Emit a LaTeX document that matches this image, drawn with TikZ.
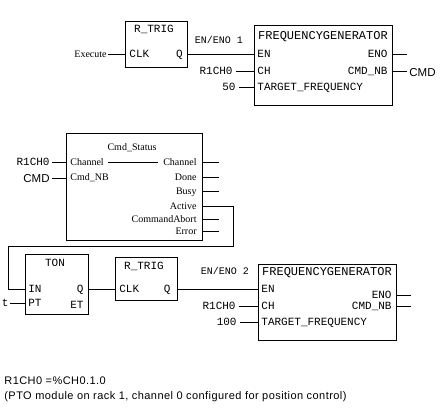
\documentclass[tikz,border=0pt]{standalone}
\usepackage{fontspec}
\setmainfont{Liberation Serif}
\newfontfamily\monof{Liberation Mono}
\newfontfamily\sansf{Liberation Sans}
\newfontfamily\notef[LetterSpace=4]{Liberation Sans}
\begin{document}
\begin{tikzpicture}[x=1pt,y=-1pt,line width=0.8pt,
  blk/.style={draw,anchor=north west,inner sep=0pt},
  mono/.style={font=\monof\fontsize{11}{12}\selectfont,inner sep=1pt,text height=6.2pt,text depth=0pt},
  monot/.style={font=\monof\fontsize{12}{13}\selectfont,inner sep=1pt,text height=6.8pt,text depth=0pt},
  monos/.style={font=\monof\fontsize{10}{11}\selectfont,inner sep=1pt,text height=5.7pt,text depth=0pt},
  ser/.style={font=\fontsize{10}{11}\selectfont,inner sep=1pt,text height=6.6pt,text depth=0pt},
  san/.style={font=\sansf\fontsize{11.5}{13}\selectfont,inner sep=1pt,text height=8.2pt,text depth=0pt},
  note/.style={font=\notef\fontsize{11}{12}\selectfont,inner sep=0pt,anchor=base west}]
\useasboundingbox (0,0) rectangle (440,412);

% ---------- R_TRIG 1 ----------
\node[blk,minimum width=62pt,minimum height=46pt] (rt1) at (125,21) {};
\node[mono] (rt1t) at (154,29) {R\_TRIG};
\node[mono,anchor=west] (rt1clk) at (128,54) {CLK};
\node[mono,anchor=east] (rt1q) at (184,54) {Q};
\node[ser,anchor=east] (exe) at (108,54) {Execute};
\draw (exe.east) -- (exe.east -| rt1.west);

% ---------- FREQUENCYGENERATOR 1 ----------
\node[blk,minimum width=138pt,minimum height=80pt] (fg1) at (254,25) {};
\node[monot] (fg1t) at (323,36) {FREQUENCYGENERATOR};
\node[mono,anchor=west] (fg1en) at (256,54) {EN};
\node[mono,anchor=west] (fg1ch) at (256,71) {CH};
\node[mono,anchor=west] (fg1tf) at (256,87) {TARGET\_FREQUENCY};
\node[mono,anchor=east] (fg1eno) at (389,54) {ENO};
\node[mono,anchor=east] (fg1nb) at (389,71) {CMD\_NB};
\node[monos] (eno1) at (219,41) {EN/ENO 1};
\draw (rt1q.east -| rt1.east) -- (fg1en.west -| fg1.west);
\node[mono,anchor=east] (fg1chin) at (234,71) {R1CH0};
\draw (fg1chin.east) ++(2,0) -- (fg1ch.west -| fg1.west);
\node[mono,anchor=east] (fg1tfin) at (237,87) {50};
\draw (fg1tfin.east) ++(2,0) -- (fg1tf.west -| fg1.west);
\draw (fg1eno.east -| fg1.east) -- ++(14,0) coordinate (fg1enoo);
\draw (fg1nb.east -| fg1.east) -- ++(14,0) coordinate (fg1nbo);
\node[san,anchor=west] (cmd1) at (408,72) {CMD};

% ---------- Cmd_Status ----------
\node[blk,minimum width=136pt,minimum height=107pt] (cs) at (66,133) {};
\node[ser] (cst) at (132,147) {Cmd\_Status};
\node[ser,anchor=west] (csch) at (69,162) {Channel};
\node[ser,anchor=west] (csnb) at (69,177) {Cmd\_NB};
\node[ser,anchor=east] (csch1) at (198,162) {Channel};
\node[ser,anchor=east] (csdone) at (198,177) {Done};
\node[ser,anchor=east] (csbusy) at (198,191) {Busy};
\node[ser,anchor=east] (csact) at (198,206) {Active};
\node[ser,anchor=east] (csab) at (198,219) {CommandAbort};
\node[ser,anchor=east] (cserr) at (198,231) {Error};
\draw (csch.east) ++(3,0) -- ([xshift=-4pt]csch1.west);
\node[mono,anchor=east] (cschin) at (51,162) {R1CH0};
\draw (cschin.east) ++(1,0) -- (csch.west -| cs.west);
\node[san,anchor=east] (cmd2) at (51,178) {CMD};
\draw (cmd2.east) ++(1,0) -- (cmd2.east -| cs.west);
\foreach \n in {csch1,csdone,csbusy,csab,cserr}
  \draw (\n.east -| cs.east) -- ++(16,0);

% ---------- TON ----------
\node[blk,minimum width=63pt,minimum height=60pt] (ton) at (25,254) {};
\node[mono] (tont) at (55,263) {TON};
\node[mono,anchor=west] (tonin) at (27,289) {IN};
\node[mono,anchor=west] (tonpt) at (27,303) {PT};
\node[mono,anchor=east] (tonq) at (85,289) {Q};
\node[mono,anchor=east] (tonet) at (85,305) {ET};
\node[mono,anchor=east] (tin) at (10,303) {t};
\draw (tin.east) -- (tonpt.west -| ton.west);
\coordinate (c1) at (233,246);
\coordinate (c2) at (8,246);
\draw (csact.east -| cs.east) -| (c1) -- (c2) |- (tonin.west -| ton.west);

% ---------- R_TRIG 2 ----------
\node[blk,minimum width=62pt,minimum height=43pt] (rt2) at (115,257) {};
\node[mono] (rt2t) at (144,266) {R\_TRIG};
\node[mono,anchor=west] (rt2clk) at (118,289) {CLK};
\node[mono,anchor=east] (rt2q) at (172,289) {Q};
\draw (tonq.east -| ton.east) -- (rt2clk.west -| rt2.west);

% ---------- FREQUENCYGENERATOR 2 ----------
\node[blk,minimum width=138pt,minimum height=76pt] (fg2) at (258,264) {};
\node[monot] (fg2t) at (327,272) {FREQUENCYGENERATOR};
\node[mono,anchor=west] (fg2en) at (260,289) {EN};
\node[mono,anchor=west] (fg2ch) at (260,306) {CH};
\node[mono,anchor=west] (fg2tf) at (260,322) {TARGET\_FREQUENCY};
\node[mono,anchor=east] (fg2eno) at (393,295) {ENO};
\node[mono,anchor=east] (fg2nb) at (393,306) {CMD\_NB};
\node[monos] (eno2) at (225,272) {EN/ENO 2};
\draw (rt2q.east -| rt2.east) -- (fg2en.west -| fg2.west);
\node[mono,anchor=east] (fg2chin) at (237,306) {R1CH0};
\draw (fg2chin.east) ++(2,0) -- (fg2ch.west -| fg2.west);
\node[mono,anchor=east] (fg2tfin) at (238,322) {100};
\draw (fg2tfin.east) ++(2,0) -- (fg2tf.west -| fg2.west);
\draw (fg2eno.east -| fg2.east) -- ++(14,0);
\draw (fg2nb.east -| fg2.east) -- ++(14,0);

% ---------- notes ----------
\node[note] (n1) at (4,384) {R1CH0 =\%CH0.1.0};
\node[note] (n2) at (4,399) {(PTO module on rack 1, channel 0 configured for position control)};
\end{tikzpicture}
\end{document}
